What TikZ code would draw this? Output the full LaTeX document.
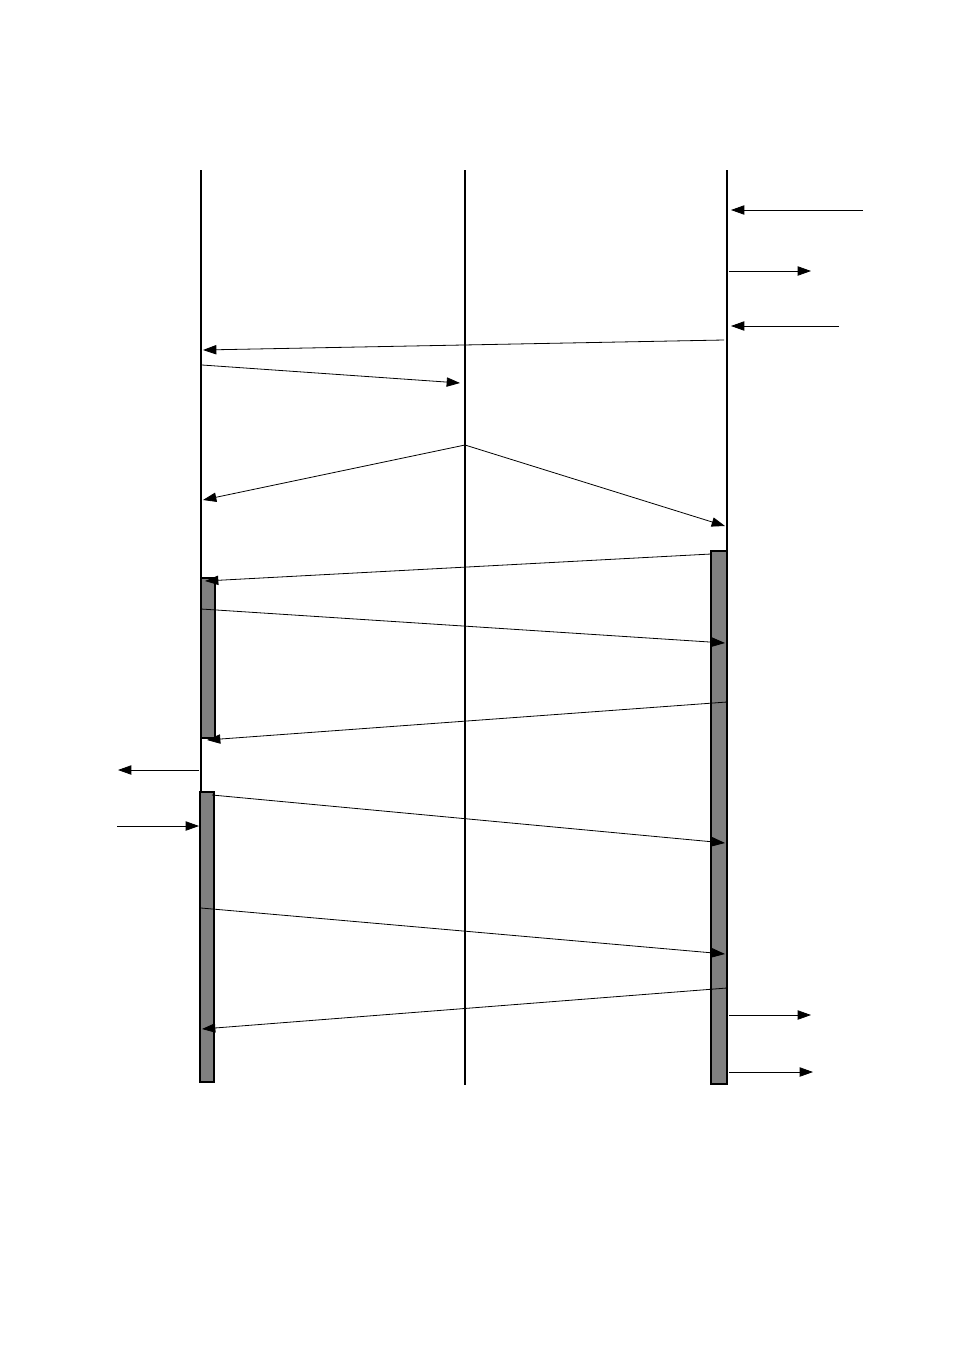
\documentclass[tikz,border=0pt]{standalone}
\usepackage{tikz}
\usetikzlibrary{arrows.meta}

\tikzset{msg/.style={-{Triangle[length=10pt,width=7pt]}, color=black, line width=.6pt},
         act/.style={draw, fill=gray, line width=.8pt}}

\begin{document}
\begin{tikzpicture}[x=0.75pt,y=-0.75pt]
\useasboundingbox (0,0) rectangle (954,1349);
% lifelines
\coordinate(atop) at (201,170);
\coordinate(abot) at (201,1082);
\coordinate(btop) at (465,170);
\coordinate(bbot) at (465,1085);
\coordinate(ctop) at (727,170);
\coordinate(cbot) at (727,1084);
\draw[line width=.8pt] (atop)--(abot);
\draw[line width=1.5pt] (btop)--(bbot);
\draw[line width=1pt] (ctop)--(cbot);

% activation bars
\draw[act] (201,578) rectangle (215,738);
\draw[act] (200,792) rectangle (214,1082);
\draw[act] (711,551) rectangle (727,1084);

% message end points
\coordinate(r1) at (863,210);  \coordinate(c1) at (731,210);
\coordinate(c2) at (729,271);  \coordinate(r2) at (811,271);
\coordinate(r3) at (839,326);  \coordinate(c3) at (731,326);
\coordinate(c4) at (724,340);  \coordinate(a4) at (203,350);
\coordinate(a5) at (202,365);  \coordinate(b5) at (460,383);
\coordinate(b6) at (465,445);  \coordinate(a6) at (203,500);
\coordinate(c6) at (725,526);
\coordinate(c7) at (711,554);  \coordinate(a7) at (205,581);
\coordinate(a8) at (201,609);  \coordinate(c8) at (725,643);
\coordinate(c9) at (727,702);  \coordinate(a9) at (207,740);
\coordinate(a10) at (199,770); \coordinate(l10) at (118,770);
\coordinate(a11) at (212,795); \coordinate(c11) at (725,843);
\coordinate(l12) at (117,826); \coordinate(a12) at (199,826);
\coordinate(a13) at (201,908); \coordinate(c13) at (725,954);
\coordinate(c14) at (727,988); \coordinate(a14) at (202,1029);
\coordinate(c15) at (729,1015); \coordinate(r15) at (811,1015);
\coordinate(c16) at (729,1072); \coordinate(r16) at (813,1072);

% messages
\draw[msg] (r1)--(c1);
\draw[msg] (c2)--(r2);
\draw[msg] (r3)--(c3);
\draw[msg] (c4)--(a4);
\draw[msg] (a5)--(b5);
\draw[msg] (b6)--(a6);
\draw[msg] (b6)--(c6);
\draw[msg] (c7)--(a7);
\draw[msg] (a8)--(c8);
\draw[msg] (c9)--(a9);
\draw[msg] (a10)--(l10);
\draw[msg] (a11)--(c11);
\draw[msg] (l12)--(a12);
\draw[msg] (a13)--(c13);
\draw[msg] (c14)--(a14);
\draw[msg] (c15)--(r15);
\draw[msg] (c16)--(r16);
\end{tikzpicture}
\end{document}
